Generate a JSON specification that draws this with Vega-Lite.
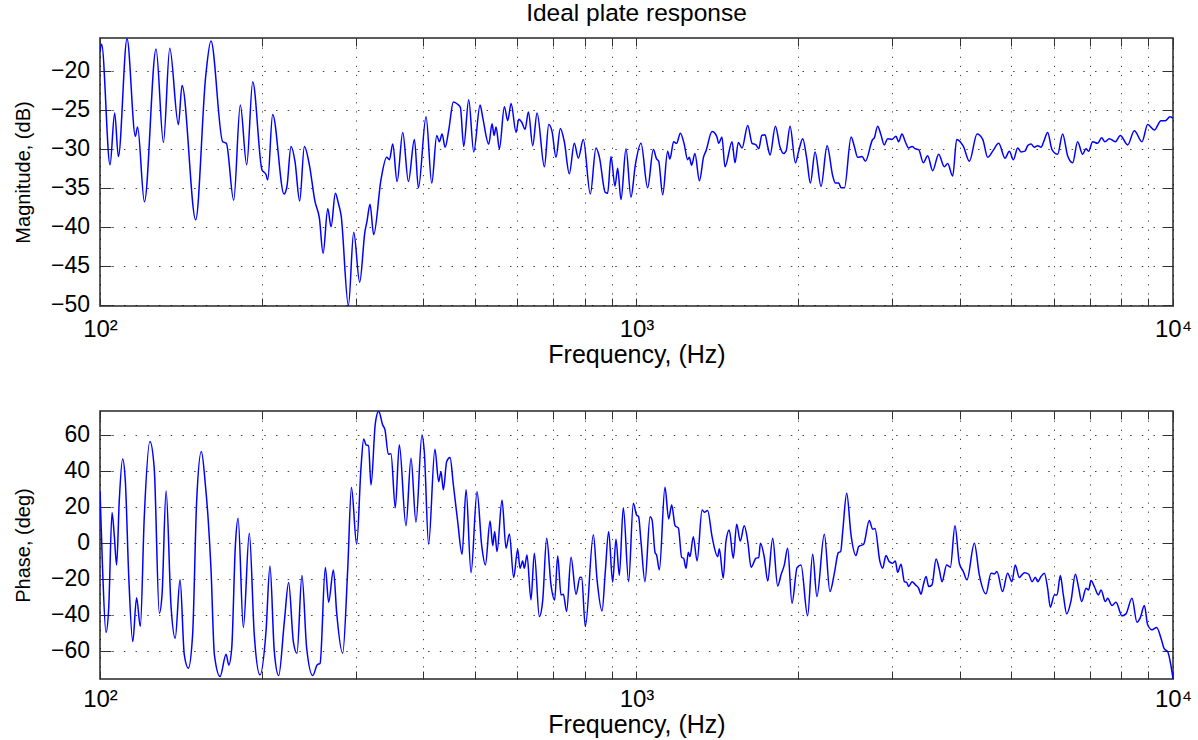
{
  "$schema": "https://vega.github.io/schema/vega-lite/v6.json",
  "background": "white",
  "padding": {"left": 12, "top": 0, "right": 0, "bottom": 0},
  "bounds": "flush",
  "spacing": 105,
  "config": {
    "font": "Liberation Sans",
    "view": {"stroke": "#262626", "strokeWidth": 1.5},
    "axis": {
      "domain": false,
      "labelFont": "Liberation Sans",
      "titleFont": "Liberation Sans",
      "labelColor": "#000000",
      "titleColor": "#000000",
      "titleFontWeight": "normal",
      "tickColor": "#303030",
      "tickWidth": 1,
      "gridColor": "#000000",
      "gridOpacity": 0.75,
      "gridWidth": 1,
      "labelFlush": false,
      "labelOverlap": false
    },
    "title": {"font": "Liberation Sans", "fontWeight": "normal", "color": "#000000"}
  },
  "datasets": {
    "mag": [
      {"f": 100, "db": -17.6}, {"f": 100.7, "db": -16.6}, {"f": 104.4, "db": -32.05}, {"f": 106.5, "db": -25.4},
      {"f": 108.2, "db": -31.0}, {"f": 112.3, "db": -15.9}, {"f": 116.4, "db": -28.4}, {"f": 117.5, "db": -27.2},
      {"f": 121.0, "db": -36.8}, {"f": 127.2, "db": -17.2}, {"f": 131.3, "db": -29.2}, {"f": 134.9, "db": -17.1},
      {"f": 140.0, "db": -26.9}, {"f": 142.2, "db": -21.9}, {"f": 150.8, "db": -39.1}, {"f": 157.4, "db": -20.7},
      {"f": 161.0, "db": -16.2}, {"f": 169.3, "db": -29.1}, {"f": 172.0, "db": -29.3}, {"f": 177.5, "db": -36.6},
      {"f": 182.6, "db": -24.4}, {"f": 187.7, "db": -32.05}, {"f": 192.6, "db": -21.4}, {"f": 200.4, "db": -32.7},
      {"f": 203.9, "db": -33.3}, {"f": 205.4, "db": -34.0}, {"f": 209.8, "db": -25.6}, {"f": 220.3, "db": -35.8},
      {"f": 223.1, "db": -34.8}, {"f": 227.0, "db": -29.7}, {"f": 230.9, "db": -31.6}, {"f": 235.6, "db": -36.7},
      {"f": 240.4, "db": -29.7}, {"f": 245.6, "db": -32.05}, {"f": 251.6, "db": -36.75}, {"f": 256.4, "db": -38.9},
      {"f": 260.5, "db": -43.4}, {"f": 265.8, "db": -37.7}, {"f": 269.6, "db": -40.0}, {"f": 274.6, "db": -35.7},
      {"f": 278.2, "db": -37.0}, {"f": 281.4, "db": -38.5}, {"f": 290.4, "db": -50.1}, {"f": 297.1, "db": -40.7},
      {"f": 304.8, "db": -47.1}, {"f": 311.8, "db": -40.6}, {"f": 314.5, "db": -39.3}, {"f": 318.6, "db": -37.1},
      {"f": 323.7, "db": -41.0}, {"f": 334.1, "db": -33.9}, {"f": 342.3, "db": -31.1}, {"f": 346.3, "db": -31.4},
      {"f": 351.3, "db": -29.4}, {"f": 357.9, "db": -34.2}, {"f": 366.7, "db": -27.9}, {"f": 375.7, "db": -34.2},
      {"f": 385.5, "db": -28.8}, {"f": 392.2, "db": -35.0}, {"f": 405.3, "db": -25.9}, {"f": 415.3, "db": -34.4},
      {"f": 424.3, "db": -28.3}, {"f": 429.2, "db": -29.1}, {"f": 434.1, "db": -28.1}, {"f": 439.8, "db": -29.8},
      {"f": 446.7, "db": -27.6}, {"f": 455.7, "db": -24.0}, {"f": 464.2, "db": -24.3}, {"f": 469.6, "db": -24.7},
      {"f": 476.4, "db": -29.7}, {"f": 486.7, "db": -23.7}, {"f": 497.3, "db": -30.4}, {"f": 511.0, "db": -24.4},
      {"f": 516.9, "db": -26.0}, {"f": 530.4, "db": -29.4}, {"f": 538.0, "db": -26.8}, {"f": 542.7, "db": -28.3},
      {"f": 547.3, "db": -27.2}, {"f": 555.2, "db": -30.0}, {"f": 567.2, "db": -24.6}, {"f": 575.4, "db": -26.4},
      {"f": 583.8, "db": -24.2}, {"f": 596.4, "db": -27.9}, {"f": 603.3, "db": -26.2}, {"f": 611.1, "db": -26.6},
      {"f": 619.9, "db": -27.5}, {"f": 628.8, "db": -25.3}, {"f": 640.6, "db": -29.6}, {"f": 652.6, "db": -25.4},
      {"f": 673.5, "db": -32.3}, {"f": 686.2, "db": -26.9}, {"f": 696.0, "db": -27.8}, {"f": 707.9, "db": -31.1},
      {"f": 721.1, "db": -27.4}, {"f": 733.6, "db": -29.1}, {"f": 749.5, "db": -33.2}, {"f": 765.7, "db": -29.3},
      {"f": 779.0, "db": -31.2}, {"f": 795.9, "db": -28.8}, {"f": 820.2, "db": -35.8}, {"f": 840.4, "db": -29.9},
      {"f": 852.4, "db": -31.0}, {"f": 874.7, "db": -35.6}, {"f": 883.5, "db": -35.7}, {"f": 896.3, "db": -31.0},
      {"f": 911.8, "db": -34.8}, {"f": 922.3, "db": -32.5}, {"f": 935.6, "db": -36.5}, {"f": 955.9, "db": -30.0},
      {"f": 976.6, "db": -36.2}, {"f": 994.9, "db": -32.1}, {"f": 1019.5, "db": -29.3}, {"f": 1049, "db": -35.0},
      {"f": 1075, "db": -30.1}, {"f": 1090, "db": -31.3}, {"f": 1100, "db": -31.6}, {"f": 1119, "db": -35.9},
      {"f": 1143, "db": -30.3}, {"f": 1154, "db": -31.3}, {"f": 1173, "db": -29.1}, {"f": 1188, "db": -29.3},
      {"f": 1207, "db": -28.0}, {"f": 1228, "db": -29.5}, {"f": 1245, "db": -31.4}, {"f": 1254, "db": -31.1},
      {"f": 1267, "db": -32.1}, {"f": 1285, "db": -30.6}, {"f": 1310, "db": -34.1}, {"f": 1334, "db": -31.0},
      {"f": 1347, "db": -30.3}, {"f": 1383, "db": -27.8}, {"f": 1411, "db": -28.4}, {"f": 1423, "db": -29.3},
      {"f": 1443, "db": -28.5}, {"f": 1462, "db": -32.3}, {"f": 1507, "db": -29.1}, {"f": 1526, "db": -31.8},
      {"f": 1548, "db": -29.2}, {"f": 1573, "db": -29.9}, {"f": 1612, "db": -27.0}, {"f": 1642, "db": -29.3},
      {"f": 1670, "db": -29.5}, {"f": 1690, "db": -30.0}, {"f": 1712, "db": -28.3}, {"f": 1736, "db": -28.2},
      {"f": 1756, "db": -29.7}, {"f": 1774, "db": -30.8}, {"f": 1815, "db": -27.1}, {"f": 1852, "db": -29.8},
      {"f": 1879, "db": -30.6}, {"f": 1900, "db": -30.3}, {"f": 1933, "db": -27.1}, {"f": 1978, "db": -31.8},
      {"f": 2006, "db": -30.3}, {"f": 2041, "db": -28.7}, {"f": 2076, "db": -31.2}, {"f": 2109, "db": -34.4},
      {"f": 2152, "db": -30.4}, {"f": 2208, "db": -34.8}, {"f": 2266, "db": -29.6}, {"f": 2322, "db": -33.5},
      {"f": 2348, "db": -34.4}, {"f": 2382, "db": -34.4}, {"f": 2406, "db": -35.0}, {"f": 2441, "db": -35.0},
      {"f": 2512, "db": -28.5}, {"f": 2547, "db": -29.7}, {"f": 2584, "db": -31.1}, {"f": 2633, "db": -31.0},
      {"f": 2671, "db": -31.6}, {"f": 2755, "db": -28.8}, {"f": 2775, "db": -28.6}, {"f": 2815, "db": -27.1},
      {"f": 2855, "db": -28.2}, {"f": 2896, "db": -29.5}, {"f": 2938, "db": -28.7}, {"f": 2993, "db": -28.8},
      {"f": 3045, "db": -28.4}, {"f": 3080, "db": -29.1}, {"f": 3125, "db": -28.1}, {"f": 3170, "db": -29.1},
      {"f": 3217, "db": -29.9}, {"f": 3263, "db": -29.7}, {"f": 3310, "db": -30.0}, {"f": 3357, "db": -30.1},
      {"f": 3425, "db": -31.8}, {"f": 3489, "db": -30.9}, {"f": 3565, "db": -32.8}, {"f": 3658, "db": -30.7},
      {"f": 3748, "db": -32.3}, {"f": 3802, "db": -31.9}, {"f": 3885, "db": -33.5}, {"f": 3952, "db": -28.8},
      {"f": 4067, "db": -29.7}, {"f": 4173, "db": -31.6}, {"f": 4313, "db": -28.1}, {"f": 4419, "db": -28.8},
      {"f": 4515, "db": -31.1}, {"f": 4613, "db": -30.3}, {"f": 4733, "db": -29.3}, {"f": 4863, "db": -31.2},
      {"f": 4955, "db": -30.3}, {"f": 5040, "db": -31.4}, {"f": 5135, "db": -29.9}, {"f": 5209, "db": -30.4},
      {"f": 5299, "db": -30.3}, {"f": 5360, "db": -29.6}, {"f": 5437, "db": -29.4}, {"f": 5515, "db": -29.8},
      {"f": 5595, "db": -29.6}, {"f": 5675, "db": -29.8}, {"f": 5740, "db": -29.1}, {"f": 5839, "db": -27.9},
      {"f": 5949, "db": -30.1}, {"f": 6095, "db": -30.7}, {"f": 6227, "db": -28.1}, {"f": 6362, "db": -30.9},
      {"f": 6500, "db": -31.8}, {"f": 6641, "db": -29.1}, {"f": 6785, "db": -30.7}, {"f": 6883, "db": -30.0},
      {"f": 6962, "db": -30.3}, {"f": 7083, "db": -29.1}, {"f": 7236, "db": -29.3}, {"f": 7362, "db": -28.6},
      {"f": 7468, "db": -29.1}, {"f": 7608, "db": -28.7}, {"f": 7807, "db": -29.1}, {"f": 7976, "db": -28.3},
      {"f": 8231, "db": -29.5}, {"f": 8470, "db": -27.7}, {"f": 8754, "db": -29.1}, {"f": 8970, "db": -26.9},
      {"f": 9230, "db": -27.6}, {"f": 9497, "db": -26.4}, {"f": 9676, "db": -26.4}, {"f": 9872, "db": -25.9},
      {"f": 10000, "db": -26.1}
    ],
    "phase": [
      {"f": 100, "deg": 28.7}, {"f": 101.1, "deg": -14.3}, {"f": 102.6, "deg": -50.0}, {"f": 103.8, "deg": -36.5},
      {"f": 105.3, "deg": 16.7}, {"f": 106.3, "deg": 4.3}, {"f": 107.4, "deg": -12.4}, {"f": 108.6, "deg": 22.8},
      {"f": 110.2, "deg": 46.5}, {"f": 111.5, "deg": 33.9}, {"f": 113.1, "deg": -18.0}, {"f": 115.1, "deg": -55.0},
      {"f": 117.0, "deg": -30.6}, {"f": 118.9, "deg": -46.7}, {"f": 120.9, "deg": 13.5}, {"f": 123.9, "deg": 56.1},
      {"f": 126.2, "deg": 41.3}, {"f": 129.0, "deg": -39.3}, {"f": 130.5, "deg": -29.1}, {"f": 132.8, "deg": 28.7},
      {"f": 135.6, "deg": -34.6}, {"f": 138.1, "deg": -53.1}, {"f": 141.0, "deg": -20.7}, {"f": 143.6, "deg": -62.4},
      {"f": 146.1, "deg": -69.8}, {"f": 148.8, "deg": -51.3}, {"f": 151.4, "deg": 22.8}, {"f": 154.5, "deg": 50.6},
      {"f": 157.2, "deg": 32.0}, {"f": 159.0, "deg": 13.9}, {"f": 161.0, "deg": -14.3}, {"f": 163.4, "deg": -62.4},
      {"f": 167.4, "deg": -74.4}, {"f": 171.8, "deg": -62.0}, {"f": 173.8, "deg": -68.0}, {"f": 176.0, "deg": -58.7},
      {"f": 178.8, "deg": -1.3}, {"f": 180.9, "deg": 13.5}, {"f": 185.0, "deg": -47.2}, {"f": 189.8, "deg": 5.2},
      {"f": 193.9, "deg": -51.3}, {"f": 198.7, "deg": -73.5}, {"f": 203.9, "deg": -49.4}, {"f": 207.4, "deg": -13.0},
      {"f": 211.3, "deg": -60.6}, {"f": 215.3, "deg": -73.9}, {"f": 220.6, "deg": -43.9}, {"f": 224.7, "deg": -22.2},
      {"f": 229.3, "deg": -55.0}, {"f": 232.9, "deg": -61.5}, {"f": 237.9, "deg": -18.3}, {"f": 242.8, "deg": -58.7},
      {"f": 249.2, "deg": -73.9}, {"f": 253.9, "deg": -68.0}, {"f": 257.2, "deg": -67.0}, {"f": 263.0, "deg": -13.9},
      {"f": 266.8, "deg": -33.1}, {"f": 272.3, "deg": -15.2}, {"f": 276.2, "deg": -39.3}, {"f": 283.4, "deg": -61.5},
      {"f": 289.6, "deg": -14.3}, {"f": 294.2, "deg": 30.6}, {"f": 300.9, "deg": -0.9}, {"f": 306.5, "deg": 41.3},
      {"f": 310.1, "deg": 57.6}, {"f": 313.2, "deg": 54.3}, {"f": 316.6, "deg": 53.8}, {"f": 320.0, "deg": 32.0},
      {"f": 326.0, "deg": 66.3}, {"f": 330.7, "deg": 73.0}, {"f": 336.4, "deg": 65.4}, {"f": 339.8, "deg": 62.6},
      {"f": 344.7, "deg": 49.1}, {"f": 348.6, "deg": 49.4}, {"f": 355.2, "deg": 19.4}, {"f": 361.3, "deg": 54.3},
      {"f": 371.8, "deg": 9.4}, {"f": 379.9, "deg": 46.9}, {"f": 388.1, "deg": 11.3}, {"f": 398.2, "deg": 59.8},
      {"f": 402.2, "deg": 50.6}, {"f": 409.7, "deg": -0.9}, {"f": 421.0, "deg": 51.9}, {"f": 427.8, "deg": 33.9},
      {"f": 432.1, "deg": 39.4}, {"f": 436.5, "deg": 29.3}, {"f": 442.8, "deg": 45.0}, {"f": 449.2, "deg": 47.2},
      {"f": 455.7, "deg": 32.0}, {"f": 464.2, "deg": 11.7}, {"f": 473.0, "deg": -6.5}, {"f": 481.2, "deg": 29.3},
      {"f": 491.6, "deg": -16.7}, {"f": 504.4, "deg": 28.3}, {"f": 514.6, "deg": -1.7}, {"f": 522.8, "deg": -12.4},
      {"f": 533.4, "deg": 12.0}, {"f": 539.5, "deg": -1.7}, {"f": 544.1, "deg": 6.1}, {"f": 549.6, "deg": -5.0},
      {"f": 561.5, "deg": 23.7}, {"f": 571.2, "deg": -3.1}, {"f": 579.5, "deg": 4.8}, {"f": 590.3, "deg": -19.4},
      {"f": 600.5, "deg": -3.7}, {"f": 606.5, "deg": -14.3}, {"f": 613.5, "deg": -10.2}, {"f": 617.9, "deg": -14.3},
      {"f": 625.0, "deg": -6.9}, {"f": 635.8, "deg": -31.9}, {"f": 645.0, "deg": -5.9}, {"f": 659.0, "deg": -41.1},
      {"f": 668.5, "deg": -32.4}, {"f": 680.1, "deg": 2.4}, {"f": 692.8, "deg": -23.5}, {"f": 703.8, "deg": -31.9},
      {"f": 713.0, "deg": -7.4}, {"f": 723.3, "deg": -29.1}, {"f": 730.5, "deg": -28.7}, {"f": 741.0, "deg": -38.3},
      {"f": 755.0, "deg": -8.1}, {"f": 771.3, "deg": -28.7}, {"f": 784.7, "deg": -19.3}, {"f": 790.3, "deg": -19.4},
      {"f": 802.8, "deg": -46.7}, {"f": 831.0, "deg": 4.3}, {"f": 844.3, "deg": -20.7}, {"f": 862.6, "deg": -38.0},
      {"f": 874.7, "deg": -16.1}, {"f": 887.4, "deg": 6.1}, {"f": 902.7, "deg": -22.0}, {"f": 915.7, "deg": 1.9},
      {"f": 928.9, "deg": -18.3}, {"f": 944.9, "deg": 19.4}, {"f": 966.8, "deg": -21.7}, {"f": 986.5, "deg": 21.9},
      {"f": 1000, "deg": 15.4}, {"f": 1009, "deg": 14.4}, {"f": 1019.5, "deg": 0.5}, {"f": 1037, "deg": -21.7},
      {"f": 1060, "deg": 14.4}, {"f": 1069, "deg": 12.6}, {"f": 1083, "deg": -5.6}, {"f": 1090, "deg": -6.9},
      {"f": 1103, "deg": -15.2}, {"f": 1130, "deg": 30.7}, {"f": 1148, "deg": 13.1}, {"f": 1163, "deg": 20.9},
      {"f": 1180, "deg": 9.4}, {"f": 1197, "deg": 8.0}, {"f": 1214, "deg": -8.3}, {"f": 1224, "deg": -8.7},
      {"f": 1237, "deg": -14.3}, {"f": 1249, "deg": -5.4}, {"f": 1258, "deg": -7.8}, {"f": 1276, "deg": 3.3},
      {"f": 1297, "deg": -10.2}, {"f": 1325, "deg": 18.1}, {"f": 1338, "deg": 16.9}, {"f": 1357, "deg": 17.8},
      {"f": 1383, "deg": 3.3}, {"f": 1417, "deg": -7.8}, {"f": 1427, "deg": -3.5}, {"f": 1451, "deg": -19.8},
      {"f": 1468, "deg": 0.6}, {"f": 1489, "deg": 7.0}, {"f": 1515, "deg": -8.7}, {"f": 1537, "deg": 10.2},
      {"f": 1561, "deg": 0.9}, {"f": 1588, "deg": 9.3}, {"f": 1612, "deg": 0.6}, {"f": 1635, "deg": -13.7},
      {"f": 1670, "deg": -8.7}, {"f": 1690, "deg": -8.3}, {"f": 1702, "deg": -0.4}, {"f": 1731, "deg": -8.3},
      {"f": 1756, "deg": -21.3}, {"f": 1794, "deg": 2.4}, {"f": 1833, "deg": -24.1}, {"f": 1859, "deg": -18.0},
      {"f": 1886, "deg": -12.4}, {"f": 1913, "deg": -3.1}, {"f": 1949, "deg": -33.7}, {"f": 1992, "deg": -13.9},
      {"f": 2026, "deg": -12.4}, {"f": 2084, "deg": -40.7}, {"f": 2130, "deg": -6.5}, {"f": 2169, "deg": -30.0},
      {"f": 2239, "deg": 4.6}, {"f": 2294, "deg": -27.2}, {"f": 2338, "deg": -17.0}, {"f": 2378, "deg": -5.6},
      {"f": 2402, "deg": -5.0}, {"f": 2423, "deg": 6.1}, {"f": 2465, "deg": 27.4}, {"f": 2511, "deg": 4.3},
      {"f": 2565, "deg": -7.2}, {"f": 2595, "deg": -2.2}, {"f": 2651, "deg": -0.9}, {"f": 2716, "deg": 12.2},
      {"f": 2755, "deg": 7.4}, {"f": 2783, "deg": 7.8}, {"f": 2843, "deg": -10.6}, {"f": 2876, "deg": -14.3},
      {"f": 2917, "deg": -7.2}, {"f": 2959, "deg": -10.6}, {"f": 3002, "deg": -11.5}, {"f": 3037, "deg": -10.2},
      {"f": 3067, "deg": -16.5}, {"f": 3112, "deg": -12.0}, {"f": 3157, "deg": -21.7}, {"f": 3189, "deg": -22.2},
      {"f": 3217, "deg": -24.4}, {"f": 3263, "deg": -21.7}, {"f": 3310, "deg": -23.5}, {"f": 3357, "deg": -25.4},
      {"f": 3391, "deg": -28.7}, {"f": 3425, "deg": -23.5}, {"f": 3465, "deg": -18.9}, {"f": 3505, "deg": -24.4},
      {"f": 3555, "deg": -23.5}, {"f": 3617, "deg": -9.1}, {"f": 3669, "deg": -15.2}, {"f": 3711, "deg": -21.7},
      {"f": 3785, "deg": -12.4}, {"f": 3846, "deg": -13.7}, {"f": 3923, "deg": 9.4}, {"f": 3997, "deg": -11.5},
      {"f": 4066, "deg": -16.1}, {"f": 4130, "deg": -20.7}, {"f": 4263, "deg": -0.4}, {"f": 4355, "deg": -18.0},
      {"f": 4481, "deg": -28.5}, {"f": 4579, "deg": -17.0}, {"f": 4645, "deg": -17.4}, {"f": 4697, "deg": -16.1},
      {"f": 4812, "deg": -27.2}, {"f": 4917, "deg": -17.0}, {"f": 5009, "deg": -21.7}, {"f": 5081, "deg": -12.4},
      {"f": 5169, "deg": -19.4}, {"f": 5285, "deg": -16.7}, {"f": 5383, "deg": -17.6}, {"f": 5461, "deg": -21.7},
      {"f": 5539, "deg": -19.3}, {"f": 5595, "deg": -21.7}, {"f": 5675, "deg": -18.9}, {"f": 5757, "deg": -17.0},
      {"f": 5839, "deg": -25.4}, {"f": 5907, "deg": -35.9}, {"f": 6010, "deg": -29.1}, {"f": 6079, "deg": -29.1},
      {"f": 6166, "deg": -18.3}, {"f": 6246, "deg": -29.1}, {"f": 6336, "deg": -39.6}, {"f": 6455, "deg": -32.4},
      {"f": 6577, "deg": -17.6}, {"f": 6672, "deg": -25.4}, {"f": 6758, "deg": -32.8}, {"f": 6885, "deg": -25.4},
      {"f": 6962, "deg": -26.3}, {"f": 7033, "deg": -21.1}, {"f": 7134, "deg": -24.4}, {"f": 7258, "deg": -29.1},
      {"f": 7342, "deg": -26.3}, {"f": 7480, "deg": -32.8}, {"f": 7555, "deg": -31.0}, {"f": 7696, "deg": -35.0},
      {"f": 7829, "deg": -33.1}, {"f": 8033, "deg": -40.7}, {"f": 8172, "deg": -39.6}, {"f": 8386, "deg": -30.9},
      {"f": 8568, "deg": -44.3}, {"f": 8692, "deg": -41.7}, {"f": 8843, "deg": -35.0}, {"f": 8970, "deg": -45.7},
      {"f": 9138, "deg": -48.5}, {"f": 9323, "deg": -47.2}, {"f": 9497, "deg": -53.1}, {"f": 9634, "deg": -59.1},
      {"f": 9772, "deg": -60.6}, {"f": 10000, "deg": -75.5}
    ]
  },
  "vconcat": [
    {
      "width": 1073,
      "height": 268,
      "title": {"text": "Ideal plate response", "fontSize": 24.5, "offset": -8, "baseline": "alphabetic", "anchor": "middle", "frame": "group"},
      "data": {"name": "mag"},
      "layer": [
        {
          "mark": {"type": "line", "stroke": "#0000ff", "strokeWidth": 1.5, "interpolate": "monotone", "clip": true},
          "encoding": {
            "x": {
              "field": "f", "type": "quantitative",
              "scale": {"type": "log", "domain": [100, 10000], "nice": false},
              "axis": {
                "orient": "bottom",
                "values": [100, 200, 300, 400, 500, 600, 700, 800, 900, 1000, 2000, 3000, 4000, 5000, 6000, 7000, 8000, 9000, 10000],
                "labelExpr": "datum.value == 100 ? '10²' : datum.value == 1000 ? '10³' : datum.value == 10000 ? '10⁴' : ''",
                "labelFontSize": 24, "labelBaseline": "alphabetic", "labelPadding": 38,
                "tickSize": -8,
                "grid": true, "gridDash": [1.2, 7.9],
                "title": "Frequency, (Hz)", "titleFontSize": 25, "titleBaseline": "alphabetic", "titleY": 56
              }
            },
            "y": {
              "field": "db", "type": "quantitative",
              "scale": {"domain": [-50.15, -15.8], "nice": false, "zero": false},
              "axis": {
                "orient": "left",
                "values": [-50, -45, -40, -35, -30, -25, -20],
                "labelFontSize": 23, "labelPadding": 21.5, "labelBaseline": "middle",
                "tickSize": -11,
                "grid": true, "gridDash": [1.5, 10.2],
                "title": "Magnitude, (dB)", "titleFontSize": 20, "titleBaseline": "alphabetic", "titleX": -71
              }
            }
          }
        },
        {
          "mark": {"type": "line", "strokeOpacity": 0},
          "encoding": {
            "x": {
              "field": "f", "type": "quantitative",
              "axis": {
                "orient": "top", "labels": false, "grid": false, "title": null, "tickSize": -8,
                "values": [100, 200, 300, 400, 500, 600, 700, 800, 900, 1000, 2000, 3000, 4000, 5000, 6000, 7000, 8000, 9000, 10000]
              }
            },
            "y": {
              "field": "db", "type": "quantitative",
              "axis": {"orient": "right", "labels": false, "grid": false, "title": null, "tickSize": -11, "values": [-50, -45, -40, -35, -30, -25, -20]}
            }
          }
        }
      ],
      "resolve": {"axis": {"x": "independent", "y": "independent"}}
    },
    {
      "width": 1073,
      "height": 268,
      "data": {"name": "phase"},
      "layer": [
        {
          "mark": {"type": "line", "stroke": "#0000ff", "strokeWidth": 1.5, "interpolate": "monotone", "clip": true},
          "encoding": {
            "x": {
              "field": "f", "type": "quantitative",
              "scale": {"type": "log", "domain": [100, 10000], "nice": false},
              "axis": {
                "orient": "bottom",
                "values": [100, 200, 300, 400, 500, 600, 700, 800, 900, 1000, 2000, 3000, 4000, 5000, 6000, 7000, 8000, 9000, 10000],
                "labelExpr": "datum.value == 100 ? '10²' : datum.value == 1000 ? '10³' : datum.value == 10000 ? '10⁴' : ''",
                "labelFontSize": 24, "labelBaseline": "alphabetic", "labelPadding": 35,
                "tickSize": -8,
                "grid": true, "gridDash": [1.2, 7.9],
                "title": "Frequency, (Hz)", "titleFontSize": 25, "titleBaseline": "alphabetic", "titleY": 53
              }
            },
            "y": {
              "field": "deg", "type": "quantitative",
              "scale": {"domain": [-75.8, 73.1], "nice": false, "zero": false},
              "axis": {
                "orient": "left",
                "values": [-60, -40, -20, 0, 20, 40, 60],
                "labelFontSize": 23, "labelPadding": 21.5, "labelBaseline": "middle",
                "tickSize": -11,
                "grid": true, "gridDash": [1.5, 10.2],
                "title": "Phase, (deg)", "titleFontSize": 20, "titleBaseline": "alphabetic", "titleX": -71
              }
            }
          }
        },
        {
          "mark": {"type": "line", "strokeOpacity": 0},
          "encoding": {
            "x": {
              "field": "f", "type": "quantitative",
              "axis": {
                "orient": "top", "labels": false, "grid": false, "title": null, "tickSize": -8,
                "values": [100, 200, 300, 400, 500, 600, 700, 800, 900, 1000, 2000, 3000, 4000, 5000, 6000, 7000, 8000, 9000, 10000]
              }
            },
            "y": {
              "field": "deg", "type": "quantitative",
              "axis": {"orient": "right", "labels": false, "grid": false, "title": null, "tickSize": -11, "values": [-60, -40, -20, 0, 20, 40, 60]}
            }
          }
        }
      ],
      "resolve": {"axis": {"x": "independent", "y": "independent"}}
    }
  ]
}
